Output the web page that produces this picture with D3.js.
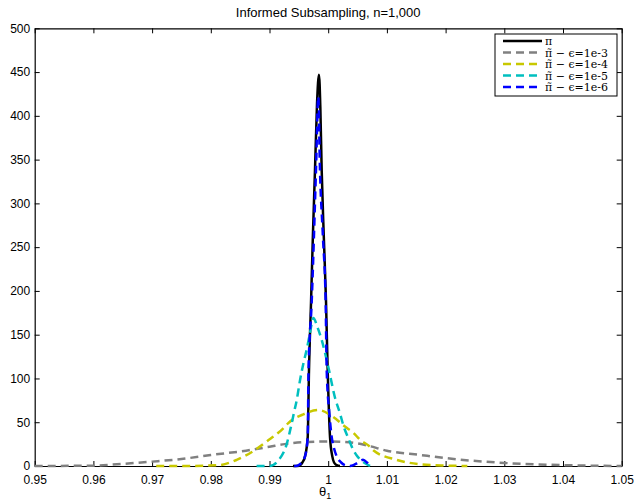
<!DOCTYPE html>
<html>
<head>
<meta charset="utf-8">
<script src="https://cdn.jsdelivr.net/npm/d3@7"></script>
<style>
  body { margin: 0; background: #fff; }
</style>
</head>
<body>
<div id="chart"></div>
<script>

//config
var WD = 637, HT = 504
var margin = { left: 34.7, right: 15.3, top: 28.3, bottom: 38 }
var width = WD - margin.left - margin.right
var height = HT - margin.top - margin.bottom

var titleText = "Informed Subsampling, n=1,000"
var xTicks = [0.95, 0.96, 0.97, 0.98, 0.99, 1, 1.01, 1.02, 1.03, 1.04, 1.05]
var yTicks = [0, 50, 100, 150, 200, 250, 300, 350, 400, 450, 500]

// curves
var blackX = [0.9940, 0.9948, 0.9952, 0.9956, 0.99605, 0.99651, 0.99673, 0.99707, 0.99740, 0.99775, 0.99810, 0.99843, 0.99866, 0.99889, 0.99925, 0.99962, 0.99991, 1.00031, 1.00070, 1.00100, 1.00145, 1.0020]
var blackY = [0, 0, 1, 4, 11, 33, 110, 186, 265, 338, 415, 447, 410, 338, 262, 190, 110, 33, 11, 4, 1, 0]

var grayX = [0.950, 0.960, 0.964, 0.970, 0.975, 0.980, 0.986, 0.990, 0.9926, 0.9966, 1.000, 1.0029, 1.0063, 1.0100, 1.0157, 1.0200, 1.0300, 1.0400, 1.0500]
var grayY = [0, 0.4, 2, 5, 8, 12.6, 17.5, 22, 25, 27.5, 28, 27.5, 24, 17.5, 12.6, 9, 3.5, 1, 0]

var yellowX = [0.9707, 0.9760, 0.98140, 0.98441, 0.98700, 0.98952, 0.99235, 0.99320, 0.99576, 0.99831, 1.00087, 1.00286, 1.00428, 1.00542, 1.00712, 1.00768, 1.01167, 1.01564, 1.0200, 1.0237]
var yellowY = [0, 0, 1, 7, 16, 28, 43, 49, 59, 64, 56, 45, 38, 30, 22, 18, 7, 2, 0.5, 0]

var cyanX = [0.9878, 0.9900, 0.99145, 0.99293, 0.99366, 0.99420, 0.99463, 0.99520, 0.99580, 0.99634, 0.99690, 0.99746, 0.99820, 0.99889, 1.00002, 1.00116, 1.00201, 1.00265, 1.00342, 1.00430, 1.00486, 1.00570, 1.00656, 1.00712]
var cyanY = [0, 0, 6, 25, 45, 62, 75, 98, 118, 133, 152, 169, 158, 144, 113, 78, 60, 45, 32, 18, 12, 6, 2, 0]

var blueX = [0.9942, 0.9945, 0.9952, 0.99605, 0.99651, 0.99665, 0.99718, 0.99792, 0.99831, 0.99860, 0.99910, 0.99957, 0.99974, 1.00020, 1.00060, 1.00100, 1.00145, 1.00220, 1.00286, 1.00371, 1.00430, 1.00486, 1.00593, 1.00660, 1.00712]
var blueY = [0, 0, 2, 11, 33, 110, 186, 338, 422, 338, 262, 186, 110, 60, 33, 20, 11, 4, 1, 0, 1, 3, 7, 4, 0]

var seriesNames = ["\u03c0", "\u03c0\u0303 \u2212 \u03f5=1e-3", "\u03c0\u0303 \u2212 \u03f5=1e-4", "\u03c0\u0303 \u2212 \u03f5=1e-5", "\u03c0\u0303 \u2212 \u03f5=1e-6"]
var seriesColors = ["#000000", "#808080", "#c8c800", "#00bfbf", "#0000ff"]
var seriesDash = [null, "8,5", "8,5", "8,5", "8,5"]

var series = [
  { x: blackX, y: blackY },
  { x: grayX, y: grayY },
  { x: yellowX, y: yellowY },
  { x: cyanX, y: cyanY },
  { x: blueX, y: blueY }
]

var svg = d3.select("#chart")
  .append("svg")
    .attr("width", WD)
    .attr("height", HT)
    .style("font-family", "'Liberation Sans', Arial, sans-serif")

var g = svg.append("g")
  .attr("transform", "translate(" + margin.left + "," + margin.top + ")")

var x = d3.scaleLinear().domain([0.95, 1.05]).range([0, width])
var y = d3.scaleLinear().domain([0, 500]).range([height, 0])

//axes, matlab style: ticks inside on all four sides
var fmt = d3.format("")
g.append("g")
  .attr("transform", "translate(0," + height + ")")
  .call(d3.axisBottom(x).tickValues(xTicks).tickSizeInner(-5).tickSizeOuter(0).tickPadding(9).tickFormat(fmt))
g.append("g")
  .call(d3.axisTop(x).tickValues(xTicks).tickSizeInner(-5).tickSizeOuter(0).tickFormat(""))
g.append("g")
  .call(d3.axisLeft(y).tickValues(yTicks).tickSizeInner(-5).tickSizeOuter(0).tickPadding(4.5))
g.append("g")
  .attr("transform", "translate(" + width + ",0)")
  .call(d3.axisRight(y).tickValues(yTicks).tickSizeInner(-5).tickSizeOuter(0).tickFormat(""))

g.selectAll(".domain").attr("stroke", "#000").attr("stroke-width", 1.2)
g.selectAll(".tick line").attr("stroke", "#000")
g.selectAll(".tick text")
  .attr("font-family", "'Liberation Sans', Arial, sans-serif")
  .attr("font-size", 12)
  .attr("fill", "#000")

//curves
var line = d3.line()
  .x(function(d) { return x(d[0]) })
  .y(function(d) { return y(d[1]) })
  .curve(d3.curveMonotoneX)

series.forEach(function(s, i) {
  var pts = s.x.map(function(v, j) { return [v, s.y[j]] })
  g.append("path")
    .datum(pts)
    .attr("d", line)
    .attr("fill", "none")
    .attr("stroke", seriesColors[i])
    .attr("stroke-width", 2.5)
    .attr("stroke-dasharray", seriesDash[i])
})

//title and x label
svg.append("text")
  .attr("x", margin.left + width / 2)
  .attr("y", 17)
  .attr("text-anchor", "middle")
  .attr("font-size", 13)
  .text(titleText)

var xl = svg.append("text")
  .attr("x", margin.left + width / 2 - 3)
  .attr("y", 496)
  .attr("text-anchor", "middle")
  .attr("font-size", 13)
xl.append("tspan").text("\u03b8")
xl.append("tspan").attr("font-size", 9).attr("dy", 3).text("1")

//legend
var lg = svg.append("g").attr("transform", "translate(495,34)")
lg.append("rect")
  .attr("width", 122)
  .attr("height", 62)
  .attr("fill", "#fff")
  .attr("stroke", "#000")
  .attr("stroke-width", 1)

seriesNames.forEach(function(name, i) {
  var ry = 7 + i * 11.5
  lg.append("line")
    .attr("x1", 8).attr("x2", 47)
    .attr("y1", ry).attr("y2", ry)
    .attr("stroke", seriesColors[i])
    .attr("stroke-width", 2.5)
    .attr("stroke-dasharray", seriesDash[i])
  lg.append("text")
    .attr("x", 50)
    .attr("y", ry + 4)
    .style("font-family", "'DejaVu Serif', 'Liberation Serif', serif")
    .style("font-size", "11px")
    .text(name)
})

</script>
</body>
</html>
